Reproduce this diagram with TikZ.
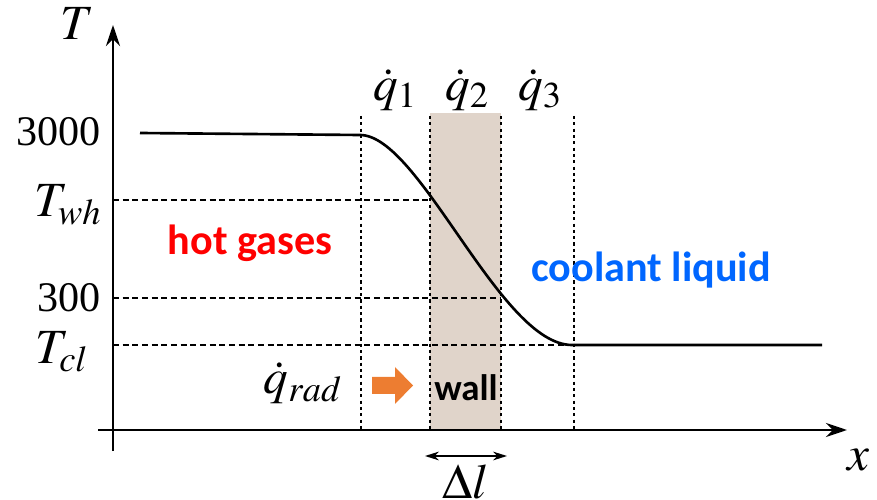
\documentclass[tikz,border=0pt]{standalone}
\usepackage{mathptmx}
\usepackage[no-math]{fontspec}
\setmainfont{Liberation Serif}
\newfontfamily\labelfont{Carlito}
\usepackage{tikz}
\usetikzlibrary{arrows.meta}
\definecolor{wallfill}{RGB}{224,212,202}
\definecolor{radorange}{RGB}{237,125,49}
\definecolor{coolblue}{RGB}{0,102,255}

\begin{document}
\begin{tikzpicture}[x=0.02cm,y=-0.02cm,>=Stealth,
  every node/.style={font=\fontsize{24}{28}\selectfont,inner sep=0pt},
  sym/.style={font=\fontsize{28}{32}\selectfont},
  guide/.style={line width=1.7pt,dash pattern=on 1.8pt off 1.8pt},
  level/.style={line width=1.2pt,dash pattern=on 3.5pt off 2pt},
  region/.style={font=\labelfont\bfseries\fontsize{24}{28}\selectfont}]
\useasboundingbox(0,0)rectangle(877,500);
\fill[wallfill](430,113)rectangle(501,430);
% axes
\coordinate(o)at(113,430);
\coordinate(xs)at(98,430);
\coordinate(xe)at(847,430);
\coordinate(ys)at(113,451);
\coordinate(ye)at(113,25);
\draw[line width=1.4pt,-{Stealth[length=12pt,width=8pt]}](xs)--(xe);
\draw[line width=1.4pt,-{Stealth[length=12pt,width=8pt]}](ys)--(ye);
\node[sym](T)at(77,24){$T$};
\node[sym](x)at(858,460){$x$};
% vertical guides
\foreach \n/\xx in {a/361,b/430,c/501,d/574}{
  \coordinate(\n top)at(\xx,116);
  \coordinate(\n bot)at(\xx,430);
  \draw[guide](\n top)--(\n bot);}
\node[sym](q1)at(395,90){$\dot{q}_1$};
\node[sym](q2)at(467,90){$\dot{q}_2$};
\node[sym](q3)at(540,90){$\dot{q}_3$};
% levels
\coordinate(wh)at(113,200);
\coordinate(mid)at(113,298);
\coordinate(cl)at(113,345);
\coordinate(whe)at(430,200);
\coordinate(mide)at(501,298);
\coordinate(cle)at(574,345);
\draw[level](wh)--(whe);
\draw[level](mid)--(mide);
\draw[level](cl)--(cle);
\node[anchor=east](t3000)at(101,132){3000};
\node[sym](Twh)at(68,205){$T_{wh}$};
\node[anchor=east](t300)at(101,298){300};
\node[sym](Tcl)at(62,352){$T_{cl}$};
% temperature profile
\coordinate(p0)at(140,133);
\coordinate(p1)at(360,135);
\coordinate(p2)at(572,345);
\coordinate(p3)at(822,345);
\draw[line width=1.5pt](p0)--(p1).. controls (420,135) and (500,345) ..(p2)--(p3);
% labels
\node[region,red](hot)at(250,243){hot gases};
\node[region,coolblue](cool)at(651,270){coolant liquid};
\node[region,font=\labelfont\bfseries\fontsize{21}{24}\selectfont](wall)at(466,388){wall};
\node[sym](qrad)at(303,383){$\dot{q}_{rad}$};
\fill[radorange](372,377)--(395,377)--(395,367)--(413,385.5)--(395,404)--(395,394)--(372,394)--cycle;
\coordinate(dl1)at(425,456);
\coordinate(dl2)at(507,456);
\draw[line width=0.9pt,{Stealth[length=8pt,width=5pt]}-{Stealth[length=8pt,width=5pt]}](dl1)--(dl2);
\node[sym](dl)at(466,482){$\Delta l$};
\end{tikzpicture}
\end{document}
